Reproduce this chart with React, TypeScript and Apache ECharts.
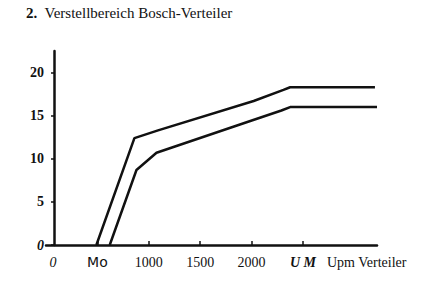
import React, { useEffect, useRef } from "react";
import * as echarts from "echarts";

const upperRpm = [490, 860, 1090, 2020, 2310, 2375, 3200];
const upperVal = [0, 12.4, 13.3, 16.7, 18.0, 18.3, 18.3];
const lowerRpm = [620, 880, 1075, 2016, 2290, 2375, 3220];
const lowerVal = [0, 8.7, 10.7, 14.5, 15.6, 16.0, 16.0];

const xTickValues = [500, 1000, 1500, 2000, 2500];
const xLabelValues = [0, 500, 1000, 1500, 2000, 2500];
const xLabelText: Record<number, string> = {
  0: "{z|0}",
  500: "{mo|Mo}",
  1000: "1000",
  1500: "1500",
  2000: "2000",
  2500: "{um|U M}",
};
const yTicks = [0, 5, 10, 15, 20];

const title = "Verstellbereich Bosch-Verteiler";
const xName = "Upm Verteiler";

export default function App() {
  const ref = useRef<HTMLDivElement>(null);
  useEffect(() => {
    if (!ref.current) return;
    const chart = echarts.init(ref.current, null, { renderer: "svg" });
    const serif = "'Liberation Serif', 'DejaVu Serif', serif";
    chart.setOption({
      animation: false,
      backgroundColor: "#fff",
      title: {
        text: "{b|2.}  " + title,
        left: 21,
        top: 0,
        textStyle: {
          fontFamily: serif,
          fontSize: 15,
          fontWeight: "normal",
          color: "#111",
          rich: {
            b: { fontFamily: serif, fontSize: 15, fontWeight: "bold", color: "#111" },
          },
        },
      },
      grid: { left: 46, right: 54, top: 51, bottom: 37 },
      xAxis: {
        type: "value",
        min: 0,
        max: 3220,
        interval: 500,
        splitLine: { show: false },
        axisLine: { onZero: false, lineStyle: { color: "#111", width: 2.5 } },
        axisTick: {
          inside: true,
          length: 4,
          customValues: xTickValues,
          lineStyle: { color: "#111", width: 1.5 },
        },
        axisLabel: {
          customValues: xLabelValues,
          margin: 10,
          fontFamily: serif,
          fontSize: 14,
          fontWeight: "normal",
          color: "#111",
          formatter: (v: number) => xLabelText[v] ?? "",
          rich: {
            z: {
              fontFamily: serif,
              fontSize: 14,
              fontStyle: "italic",
              fontWeight: "normal",
              color: "#111",
              padding: [0, 0, 0, 14],
            },
            mo: {
              fontFamily: "'DejaVu Sans', sans-serif",
              fontSize: 14,
              fontWeight: "normal",
              color: "#111",
            },
            um: {
              fontFamily: serif,
              fontSize: 14,
              fontStyle: "italic",
              fontWeight: "bold",
              color: "#111",
            },
          },
        },
      },
      yAxis: {
        type: "value",
        min: 0,
        max: 22.5,
        interval: 5,
        offset: -8,
        splitLine: { show: false },
        axisLine: { onZero: false, lineStyle: { color: "#111", width: 2.5 } },
        axisTick: {
          customValues: yTicks,
          length: 3,
          lineStyle: { color: "#111", width: 1.5 },
        },
        axisLabel: {
          customValues: yTicks,
          margin: 10,
          fontFamily: serif,
          fontSize: 14,
          fontWeight: "bold",
          color: "#111",
          formatter: (v: number) => (v === 0 ? "{z|0}" : String(v)),
          rich: {
            z: {
              fontFamily: serif,
              fontSize: 14,
              fontStyle: "italic",
              fontWeight: "bold",
              color: "#111",
            },
          },
        },
      },
      graphic: [
        {
          type: "text",
          left: 327,
          top: 255,
          style: {
            text: xName,
            fontFamily: serif,
            fontSize: 14,
            fill: "#111",
          },
        },
      ],
      series: [
        {
          type: "line",
          data: upperRpm.map((x, i) => [x, upperVal[i]]),
          showSymbol: false,
          symbol: "none",
          lineStyle: { color: "#111", width: 2.5 },
        },
        {
          type: "line",
          data: lowerRpm.map((x, i) => [x, lowerVal[i]]),
          showSymbol: false,
          symbol: "none",
          lineStyle: { color: "#111", width: 2.5 },
        },
      ],
    });
    return () => chart.dispose();
  }, []);
  return (
    <div
      ref={ref}
      style={{ position: "fixed", left: 0, top: 0, width: 431, height: 282 }}
    />
  );
}
